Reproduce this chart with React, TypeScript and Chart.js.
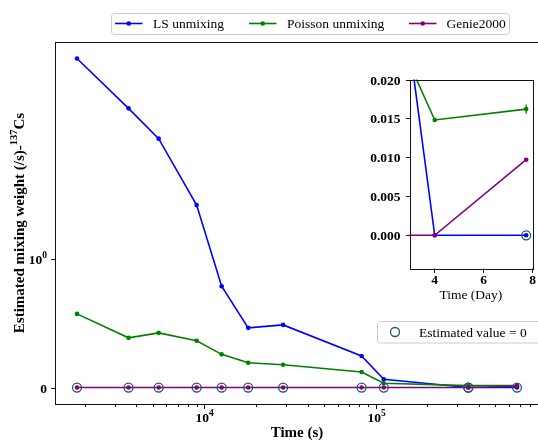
import React, { useEffect, useRef } from 'react';
import { Chart, registerables, LinearScale } from 'chart.js';

// ---------------- data ----------------
const timesSec = [1800, 3600, 5400, 9000, 12600, 18000, 28800, 82800, 111600, 348000, 670000];
const lsUnmixing = [7.44, 4.52, 3.34, 1.72, 0.791, 0.466, 0.489, 0.246, 0.065, 0, 0];
const poissonUnmixing = [0.575, 0.388, 0.427, 0.365, 0.259, 0.193, 0.178, 0.121, 0.034, 0.0148, 0.0162];
const genie2000 = [0, 0, 0, 0, 0, 0, 0, 0, 0, 0, 0.0097];
const poissonErr = [0, 0, 0, 0, 0, 0, 0, 0, 0, 0, 0.0006];
const insetZeroIdx = [10];

const seriesNames = ['LS unmixing', 'Poisson unmixing', 'Genie2000'];
const seriesValues = [lsUnmixing, poissonUnmixing, genie2000];
const seriesColors = ['#0000ff', '#008000', '#800080'];
const zeroLabel = 'Estimated value = 0';
const zeroColor = '#235a5a';
const xTitle = 'Time (s)';
const yTitleParts = [{ t: 'Estimated mixing weight (/s)-' }, { t: '137', sup: true }, { t: 'Cs' }];
const insetXTitle = 'Time (Day)';
const insetXRange = [3, 8];
const insetYRange = [-0.0042, 0.02];
const insetXStep = 2;
const insetYStep = 0.005;
const SECONDS_PER_DAY = 86400;

// ---------------- symlog scale ----------------
const LINTHRESH = 1;
const LINSCALE = 0.5;
const LIN_UNITS = LINSCALE / (1 - 1 / 10);
function symT(v: number) {
  const a = Math.abs(v);
  if (a <= LINTHRESH) return (v / LINTHRESH) * LIN_UNITS;
  return Math.sign(v) * (LIN_UNITS + Math.log10(a / LINTHRESH));
}
function symInv(t: number) {
  const a = Math.abs(t);
  if (a <= LIN_UNITS) return (t / LIN_UNITS) * LINTHRESH;
  return Math.sign(t) * LINTHRESH * Math.pow(10, a - LIN_UNITS);
}

class SymlogScale extends (LinearScale as any) {
  static id = 'symlog';
  static defaults = {};
  _t0 = 0;
  _t1 = 1;
  determineDataLimits() {
    super.determineDataLimits();
    const t0 = symT(this.min);
    const t1 = symT(this.max);
    const m = (t1 - t0) * 0.05;
    this.min = symInv(t0 - m);
    this.max = symInv(t1 + m);
  }
  buildTicks() {
    const ticks: any[] = [];
    if (this.min <= 0 && this.max >= 0) ticks.push({ value: 0 });
    for (let e = 0; e < 20; e++) {
      const v = LINTHRESH * Math.pow(10, e);
      if (v > this.max) break;
      if (v >= this.min) ticks.push({ value: v });
    }
    this.start = this.min;
    this.end = this.max;
    return ticks;
  }
  configure() {
    super.configure();
    this._t0 = symT(this.min);
    this._t1 = symT(this.max);
  }
  getPixelForValue(value: number) {
    return this.getPixelForDecimal((symT(value) - this._t0) / (this._t1 - this._t0));
  }
  getValueForPixel(pixel: number) {
    return symInv(this._t0 + this.getDecimalForPixel(pixel) * (this._t1 - this._t0));
  }
}

Chart.register(...registerables, SymlogScale as any);

// ---------------- text helpers ----------------
const FAMILY = '"Liberation Serif", "DejaVu Serif", serif';
const fnt = (size: number, bold = false) => `${bold ? 'bold ' : ''}${size}px ${FAMILY}`;
type Part = { t: string; sup?: boolean };
function drawRich(ctx: CanvasRenderingContext2D, parts: Part[], x: number, y: number, size: number, bold: boolean, align: string) {
  let w = 0;
  for (const p of parts) {
    ctx.font = fnt(p.sup ? size * 0.7 : size, bold);
    w += ctx.measureText(p.t).width;
  }
  let cx = align === 'left' ? x : align === 'center' ? x - w / 2 : x - w;
  ctx.textAlign = 'left';
  ctx.textBaseline = 'alphabetic';
  for (const p of parts) {
    const s = p.sup ? size * 0.7 : size;
    ctx.font = fnt(s, bold);
    ctx.fillText(p.t, cx, p.sup ? y - size * 0.42 : y);
    cx += ctx.measureText(p.t).width;
  }
}
function roundRect(ctx: CanvasRenderingContext2D, x: number, y: number, w: number, h: number, r: number) {
  ctx.beginPath();
  ctx.moveTo(x + r, y);
  ctx.lineTo(x + w - r, y);
  ctx.quadraticCurveTo(x + w, y, x + w, y + r);
  ctx.lineTo(x + w, y + h - r);
  ctx.quadraticCurveTo(x + w, y + h, x + w - r, y + h);
  ctx.lineTo(x + r, y + h);
  ctx.quadraticCurveTo(x, y + h, x, y + h - r);
  ctx.lineTo(x, y + r);
  ctx.quadraticCurveTo(x, y, x + r, y);
  ctx.closePath();
}
function tickLine(ctx: CanvasRenderingContext2D, x1: number, y1: number, x2: number, y2: number) {
  ctx.beginPath();
  ctx.moveTo(x1, y1);
  ctx.lineTo(x2, y2);
  ctx.stroke();
}

const TICK_FS = 13.5;
const LEG_FS = 13.5;
const TITLE_FS = 15;

const lineDatasets = (xs: number[]) =>
  seriesValues.map((vals, i) => ({
    label: seriesNames[i],
    data: xs.map((x, j) => ({ x, y: vals[j] })),
    borderColor: seriesColors[i],
    backgroundColor: seriesColors[i],
    pointBackgroundColor: seriesColors[i],
    pointBorderWidth: 0,
    pointRadius: 2.3,
    borderWidth: 1.6,
    tension: 0,
    order: 3 - i,
  }));

const zeroDataset = (pts: { x: number; y: number }[]) => ({
  label: zeroLabel,
  data: pts,
  showLine: false,
  pointRadius: 4.5,
  pointBorderWidth: 1.3,
  pointBorderColor: zeroColor,
  pointBackgroundColor: 'rgba(0,0,0,0)',
  borderColor: zeroColor,
  order: 0,
});

const MAIN_W = 560;
const MAIN_H = 440;
const MAIN_AREA = { left: 55, top: 42, right: 539, bottom: 404 };

const mainDecor = {
  id: 'mainDecor',
  afterDraw(chart: any) {
    const { ctx, chartArea: a, scales } = chart;
    const xs = scales.x;
    const ys = scales.y;
    ctx.save();
    ctx.strokeStyle = '#111';
    ctx.lineWidth = 1;
    ctx.strokeRect(Math.round(a.left) + 0.5, Math.round(a.top) + 0.5, Math.round(a.right - a.left), Math.round(a.bottom - a.top));
    ctx.fillStyle = '#000';
    // x ticks (log)
    const e0 = Math.floor(Math.log10(xs.min));
    const e1 = Math.ceil(Math.log10(xs.max));
    for (let e = e0; e <= e1; e++) {
      for (let m = 1; m <= 9; m++) {
        const v = m * Math.pow(10, e);
        if (v < xs.min || v > xs.max) continue;
        const px = Math.round(xs.getPixelForValue(v)) + 0.5;
        const b = Math.round(a.bottom) + 0.5;
        tickLine(ctx, px, b, px, b + (m === 1 ? 4.5 : 2.5));
        if (m === 1) drawRich(ctx, [{ t: '10' }, { t: String(e), sup: true }], px, a.bottom + 18, TICK_FS, true, 'center');
      }
    }
    // y ticks (symlog)
    ys.ticks.forEach((tk: any) => {
      const py = Math.round(ys.getPixelForValue(tk.value)) + 0.5;
      const l = Math.round(a.left) + 0.5;
      tickLine(ctx, l - 4.5, py, l, py);
      const parts = tk.value === 0 ? [{ t: '0' }] : [{ t: '10' }, { t: String(Math.round(Math.log10(tk.value))), sup: true }];
      drawRich(ctx, parts, a.left - 8, py + 4.5, TICK_FS, true, 'right');
    });
    // titles
    ctx.font = fnt(TITLE_FS, true);
    ctx.textAlign = 'center';
    ctx.textBaseline = 'alphabetic';
    ctx.fillText(xTitle, (a.left + a.right) / 2, 437);
    ctx.save();
    ctx.translate(23.5, (a.top + a.bottom) / 2);
    ctx.rotate(-Math.PI / 2);
    drawRich(ctx, yTitleParts, 0, 0, TITLE_FS, true, 'center');
    ctx.restore();
    // top legend
    ctx.lineWidth = 1;
    roundRect(ctx, 111.5, 13.5, 398, 21, 3);
    ctx.fillStyle = 'rgba(255,255,255,0.8)';
    ctx.fill();
    ctx.strokeStyle = '#cccccc';
    ctx.stroke();
    const entries = [
      { x1: 115, x2: 142.5, tx: 153 },
      { x1: 249, x2: 276.5, tx: 287 },
      { x1: 409, x2: 436.5, tx: 446.5 },
    ];
    entries.forEach((en, i) => {
      const y = 23.5;
      ctx.strokeStyle = seriesColors[i];
      ctx.lineWidth = 1.6;
      tickLine(ctx, en.x1, y, en.x2, y);
      ctx.fillStyle = seriesColors[i];
      ctx.beginPath();
      ctx.arc((en.x1 + en.x2) / 2, y, 2.3, 0, Math.PI * 2);
      ctx.fill();
      ctx.fillStyle = '#000';
      ctx.font = fnt(LEG_FS);
      ctx.textAlign = 'left';
      ctx.fillText(seriesNames[i], en.tx, y + 4.5);
    });
    // zero legend
    ctx.lineWidth = 1;
    roundRect(ctx, 377.5, 321.5, 200, 21.5, 3);
    ctx.fillStyle = 'rgba(255,255,255,0.8)';
    ctx.fill();
    ctx.strokeStyle = '#cccccc';
    ctx.stroke();
    ctx.strokeStyle = zeroColor;
    ctx.lineWidth = 1.3;
    ctx.beginPath();
    ctx.arc(395, 332, 4.5, 0, Math.PI * 2);
    ctx.stroke();
    ctx.fillStyle = '#000';
    ctx.font = fnt(LEG_FS);
    ctx.textAlign = 'left';
    ctx.fillText(zeroLabel, 419, 336.5);
    ctx.restore();
  },
};

const INSET_LEFT = 340;
const INSET_TOP = 60;
const INSET_W = 198;
const INSET_H = 250;
const INSET_AREA = { left: 409.5, top: 79.5, right: 534, bottom: 268 };

const insetDecor = {
  id: 'insetDecor',
  beforeDatasetsDraw(chart: any) {
    const { ctx, chartArea: a } = chart;
    ctx.save();
    ctx.fillStyle = '#fff';
    ctx.fillRect(a.left, a.top, a.right - a.left, a.bottom - a.top);
    ctx.restore();
  },
  afterDatasetsDraw(chart: any) {
    const { ctx, chartArea: a, scales } = chart;
    ctx.save();
    ctx.beginPath();
    ctx.rect(a.left, a.top, a.right - a.left, a.bottom - a.top);
    ctx.clip();
    ctx.strokeStyle = seriesColors[1];
    ctx.lineWidth = 1.3;
    poissonErr.forEach((err, i) => {
      if (!err) return;
      const x = scales.x.getPixelForValue(timesSec[i] / SECONDS_PER_DAY);
      tickLine(ctx, x, scales.y.getPixelForValue(poissonUnmixing[i] - err), x, scales.y.getPixelForValue(poissonUnmixing[i] + err));
    });
    ctx.restore();
  },
  afterDraw(chart: any) {
    const { ctx, chartArea: a, scales } = chart;
    const xs = scales.x;
    const ys = scales.y;
    ctx.save();
    ctx.strokeStyle = '#111';
    ctx.lineWidth = 1;
    const L = Math.round(a.left) + 0.5;
    const B = Math.round(a.bottom) + 0.5;
    ctx.strokeRect(L, Math.round(a.top) + 0.5, Math.round(a.right - a.left), Math.round(a.bottom - a.top));
    ctx.fillStyle = '#000';
    for (let v = Math.ceil(xs.min / insetXStep - 1e-9) * insetXStep; v <= xs.max + 1e-9; v += insetXStep) {
      const px = Math.round(xs.getPixelForValue(v)) + 0.5;
      tickLine(ctx, px, B, px, B + 4.5);
      drawRich(ctx, [{ t: String(v) }], px, a.bottom + 16, TICK_FS, true, 'center');
    }
    for (let k = Math.ceil(ys.min / insetYStep - 1e-9); k * insetYStep <= ys.max + 1e-12; k++) {
      const v = k * insetYStep;
      const py = Math.round(ys.getPixelForValue(v)) + 0.5;
      tickLine(ctx, L - 4.5, py, L, py);
      drawRich(ctx, [{ t: (Math.abs(v) < 1e-12 ? 0 : v).toFixed(3) }], a.left - 9, py + 4.5, TICK_FS, true, 'right');
    }
    ctx.font = fnt(LEG_FS);
    ctx.textAlign = 'center';
    ctx.fillText(insetXTitle, (a.left + a.right) / 2, a.bottom + 30.5);
    ctx.restore();
  },
};

export default function App() {
  const mainRef = useRef<HTMLCanvasElement>(null);
  const insetRef = useRef<HTMLCanvasElement>(null);

  useEffect(() => {
    document.body.style.margin = '0';
    document.body.style.overflow = 'hidden';
    const lmin = Math.log10(Math.min(...timesSec));
    const lmax = Math.log10(Math.max(...timesSec));
    const marg = (lmax - lmin) * 0.05;

    const zeroPts: { x: number; y: number }[] = [];
    seriesValues.forEach((vals) => vals.forEach((v, i) => { if (v === 0) zeroPts.push({ x: timesSec[i], y: 0 }); }));

    const main = new Chart(mainRef.current as HTMLCanvasElement, {
      type: 'line',
      data: { datasets: [...lineDatasets(timesSec), zeroDataset(zeroPts)] as any },
      options: {
        responsive: false,
        animation: false,
        events: [],
        layout: { padding: { left: MAIN_AREA.left, top: MAIN_AREA.top, right: MAIN_W - MAIN_AREA.right, bottom: MAIN_H - MAIN_AREA.bottom } },
        plugins: { legend: { display: false }, tooltip: { enabled: false } },
        scales: {
          x: { type: 'logarithmic', display: false, min: Math.pow(10, lmin - marg), max: Math.pow(10, lmax + marg) },
          y: { type: 'symlog' as any, display: false },
        },
      },
      plugins: [mainDecor],
    } as any);

    const days = timesSec.map((t) => t / SECONDS_PER_DAY);
    const insetZeros = insetZeroIdx.map((i) => ({ x: days[i], y: 0 }));
    const inset = new Chart(insetRef.current as HTMLCanvasElement, {
      type: 'line',
      data: { datasets: [...lineDatasets(days), zeroDataset(insetZeros)] as any },
      options: {
        responsive: false,
        animation: false,
        events: [],
        layout: {
          padding: {
            left: INSET_AREA.left - INSET_LEFT,
            top: INSET_AREA.top - INSET_TOP,
            right: INSET_LEFT + INSET_W - INSET_AREA.right,
            bottom: INSET_TOP + INSET_H - INSET_AREA.bottom,
          },
        },
        plugins: { legend: { display: false }, tooltip: { enabled: false } },
        scales: {
          x: { type: 'linear', display: false, min: insetXRange[0], max: insetXRange[1] },
          y: { type: 'linear', display: false, min: insetYRange[0], max: insetYRange[1] },
        },
      },
      plugins: [insetDecor],
    } as any);

    return () => {
      main.destroy();
      inset.destroy();
    };
  }, []);

  return (
    <div style={{ position: 'relative', width: 538, height: 440, overflow: 'hidden', background: '#fff' }}>
      <canvas ref={mainRef} width={MAIN_W} height={MAIN_H} style={{ position: 'absolute', left: 0, top: 0, width: MAIN_W, height: MAIN_H }} />
      <canvas ref={insetRef} width={INSET_W} height={INSET_H} style={{ position: 'absolute', left: INSET_LEFT, top: INSET_TOP, width: INSET_W, height: INSET_H }} />
    </div>
  );
}
